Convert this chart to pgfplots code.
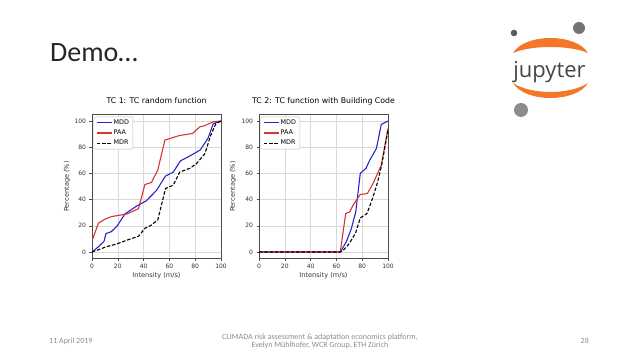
\documentclass[border=0pt]{standalone}
\usepackage{fontspec}
\setmainfont{Carlito}
\newfontfamily\dejavu{DejaVu Sans}
\newfontfamily\opensans{Open Sans}
\usepackage{pgfplots}
\pgfplotsset{compat=1.18}

\definecolor{mplblue}{rgb}{0.15,0.15,0.8}
\definecolor{mplred}{rgb}{0.85,0.2,0.2}
\definecolor{jorange}{HTML}{F37726}
\definecolor{footgray}{HTML}{8C8C8C}

\pgfplotsset{tcstyle/.style={
  scale only axis, width=129pt, height=144pt,
  xmin=0,xmax=100,ymin=-5,ymax=105,
  xtick={0,20,...,100}, ytick={0,20,...,100},
  grid=major, grid style={black!15, line width=0.5pt},
  axis line style={black!70, line width=0.5pt},
  tick align=outside, major tick length=2.5pt, tick style={black!70,line width=0.5pt},
  xtick pos=left, ytick pos=left,
  tick label style={font=\dejavu\fontsize{6}{7}\selectfont, text=black!80},
  /pgf/number format/assume math mode=true,
  xlabel={Intensity (m/s)}, ylabel={Percentage (\%)},
  label style={font=\dejavu\fontsize{6.6}{7.5}\selectfont, text=black!80},
  xlabel style={at={(axis description cs:0.5,0)}, anchor=base, yshift=-19.5pt},
  title style={font=\dejavu\fontsize{7.8}{9}\selectfont, at={(axis description cs:0.5,1)}, anchor=base, yshift=4.5pt},
  legend style={at={(axis description cs:0.012,0.985)}, anchor=north west,
    font=\dejavu\fontsize{6.4}{7.5}\selectfont, draw=black!25, rounded corners=1.2pt,
    inner xsep=2.5pt, inner ysep=1.5pt, row sep=1.5pt, nodes={inner sep=1.3pt}},
  legend cell align=left,
  legend image code/.code={\draw[#1] (0pt,0pt) -- (15pt,0pt);},
  every axis plot/.append style={line width=1.1pt, no marks},
}}

\begin{document}
\begin{tikzpicture}
\path[use as bounding box] (0,0) rectangle (638pt,359pt);

% slide title
\node[anchor=base west, inner sep=0pt, text=black!85, font=\fontsize{28}{30}\selectfont] at (50pt,297pt) {Demo…};

% footer
\node[anchor=base west, inner sep=0pt, text=footgray, font=\fontsize{8}{9}\selectfont] at (49pt,15pt) {11 April 2019};
\node[anchor=base east, inner sep=0pt, text=footgray, font=\fontsize{8}{9}\selectfont] at (589pt,15pt) {28};
\node[anchor=base, inner sep=0pt, text=footgray, font=\fontsize{8}{9}\selectfont] at (320pt,19pt) {CLIMADA risk assessment \& adaptation economics platform,};
\node[anchor=base, inner sep=0pt, text=footgray, font=\fontsize{8}{9}\selectfont] at (320pt,11pt) {Evelyn Mühlhofer, WCR Group, ETH Zürich};

% jupyter logo
\fill[jorange] (513pt,306pt) .. controls (525pt,326pt) and (576pt,326pt) .. (588pt,306pt)
  .. controls (570pt,314pt) and (531pt,314pt) .. (513pt,306pt) -- cycle;
\fill[jorange] (513pt,276pt) .. controls (525pt,256pt) and (576pt,256pt) .. (588pt,276pt)
  .. controls (570pt,264pt) and (531pt,264pt) .. (513pt,276pt) -- cycle;
\fill[black!55] (579pt,331pt) circle (6pt);
\fill[black!65] (514pt,326pt) circle (3.3pt);
\fill[black!45] (521pt,249pt) circle (7pt);
\node[anchor=base, inner sep=0pt, text=black!72, font=\opensans\fontsize{22}{22}\selectfont] at (549.5pt,281pt) {jupyter};

% left plot
\begin{axis}[tcstyle, at={(92pt,100.5pt)}, anchor=south west,
  title={TC 1: TC random function},
  ylabel style={at={(axis description cs:0,0.5)}, anchor=center, yshift=25pt}]
\addplot[mplblue] coordinates {(0,0)(3.6,2.8)(6,5)(9.3,8)(10.8,14)(15,15.5)(19.6,20)(25.5,29)(34.5,35)(42,39)(50,47)(57,58)(63,61)(68.5,69.5)(78,74.5)(84,78)(90,87)(94,98)(100,100)};
\addlegendentry{MDD}
\addplot[mplred] coordinates {(0,8.5)(5,22)(10,25)(15,27)(27,29)(36,33)(41,51.5)(46,53)(51,62.5)(56.5,85.5)(61.5,87)(68,89)(78,90.5)(83.5,95.5)(87.5,96.5)(94,99.5)(100,100)};
\addlegendentry{PAA}
\addplot[black, dash pattern=on 3.5pt off 1.8pt] coordinates {(0,0)(6,2)(11,4)(19,6)(27,9)(36,12)(41,18)(46,20.5)(51,24.5)(57,48.5)(63,51)(68,61)(76,64)(81,67.5)(87.5,75)(92,89)(96,98)(100,100)};
\addlegendentry{MDR}
\end{axis}

% right plot
\begin{axis}[tcstyle, at={(259pt,100.5pt)}, anchor=south west,
  title={TC 2: TC function with Building Code},
  ylabel style={at={(axis description cs:0,0.5)}, anchor=center, yshift=26pt}]
\addplot[mplblue] coordinates {(0,0)(63,0)(67.7,7.7)(71.6,17.9)(75,30.6)(78.5,60)(83,64)(85.8,70)(91,79)(94.8,97.4)(100,100)};
\addlegendentry{MDD}
\addplot[mplred] coordinates {(0,0)(63,0)(67.2,29.3)(70.3,30.6)(72.9,35.7)(78.5,43.9)(84,44.6)(88.4,52.3)(94.8,66.3)(100,94.4)};
\addlegendentry{PAA}
\addplot[black, dash pattern=on 3.5pt off 1.8pt] coordinates {(0,0)(63,0)(66,2)(70,6.4)(75,14.8)(78.5,26)(83.7,29.3)(88.4,42)(92,53.6)(95,66)(100,93)};
\addlegendentry{MDR}
\end{axis}
\end{tikzpicture}
\end{document}
